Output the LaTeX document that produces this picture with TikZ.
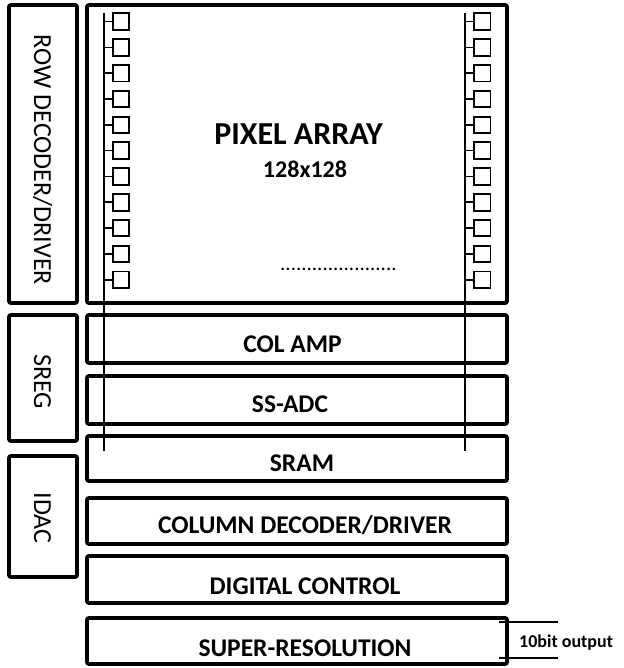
\documentclass[tikz,border=0pt]{standalone}
\usepackage{fontspec}
\setmainfont{Carlito}
\begin{document}
\begin{tikzpicture}[x=1pt,y=-1pt,
  blk/.style={draw, line width=3.8pt, rounded corners=2pt, inner sep=0pt},
  lbl/.style={font=\fontsize{25.5}{25.5}\selectfont\bfseries, inner sep=0pt},
  vlbl/.style={font=\fontsize{26}{26}\selectfont, inner sep=0pt, rotate=-90, anchor=base},
  cell/.style={draw, line width=1.9pt, inner sep=0pt, minimum width=16.5pt, minimum height=16.5pt},
  bus/.style={line width=1.3pt},
  tick/.style={line width=1.6pt},
  outl/.style={line width=1.2pt}]
\useasboundingbox (0,0) rectangle (623,668);
% left column
\node[blk, minimum width=68pt, minimum height=298pt] (rowdec) at (43,154) {};
\node[blk, minimum width=68pt, minimum height=126pt] (sreg) at (43,378) {};
\node[blk, minimum width=68pt, minimum height=121pt] (idac) at (43,516.5) {};
\node[vlbl] (trowdec) at (34,160) {ROW DECODER/DRIVER};
\node[vlbl] (tsreg) at (34,381.5) {SREG};
\node[vlbl] (tidac) at (34,518) {IDAC};
% main column
\node[blk, minimum width=420pt, minimum height=298pt] (pix) at (297,154) {};
\node[blk, minimum width=420pt, minimum height=48pt] (colamp) at (297,339) {};
\node[blk, minimum width=420pt, minimum height=48pt] (ssadc) at (297,400) {};
\node[blk, minimum width=420pt, minimum height=45pt] (sram) at (297,458.5) {};
\node[blk, minimum width=420pt, minimum height=46pt] (coldec) at (297,521) {};
\node[blk, minimum width=420pt, minimum height=47pt] (digctl) at (297,579.5) {};
\node[blk, minimum width=420pt, minimum height=46pt] (superres) at (297,641) {};
\node[lbl, anchor=base] (tcolamp) at (292.5,352) {COL AMP};
\node[lbl, anchor=base] (tssadc) at (290,412) {SS-ADC};
\node[lbl, anchor=base] (tsram) at (302,471) {SRAM};
\node[lbl, anchor=base] (tcoldec) at (305,533) {COLUMN DECODER/DRIVER};
\node[lbl, anchor=base] (tdigctl) at (305,594) {DIGITAL CONTROL};
\node[lbl, anchor=base] (tsuperres) at (305,656) {SUPER-RESOLUTION};
% pixel array texts
\node[font=\fontsize{32}{32}\selectfont\bfseries, inner sep=0pt, anchor=base] (tpix) at (298.5,145) {PIXEL ARRAY};
\node[font=\fontsize{24}{24}\selectfont\bfseries, inner sep=0pt, anchor=base] (tsize) at (305,178) {128x128};
\node[font=\fontsize{21}{21}\selectfont, inner sep=0pt, anchor=base] (tdots) at (338.5,270.5) {......................};
% bus lines
\coordinate (lbtop) at (104,13);
\coordinate (lbbot) at (104,451);
\coordinate (rbtop) at (465,13);
\coordinate (rbbot) at (465,451);
\draw[bus] (lbtop) -- (lbbot);
\draw[bus] (rbtop) -- (rbbot);
\foreach \i in {0,...,10} {
  \node[cell] (cl\i) at (121,21.7+25.8*\i) {};
  \node[cell] (cr\i) at (482.2,21.7+25.8*\i) {};
  \draw[tick] (cl\i.west) -- (cl\i.west -| lbtop);
  \draw[tick] (cr\i.west) -- (cr\i.west -| rbtop);
}
% output
\coordinate (o1a) at (499,622);
\coordinate (o1b) at (558,622);
\coordinate (o2a) at (499,658);
\coordinate (o2b) at (558,658);
\draw[outl] (o1a) -- (o1b);
\draw[outl] (o2a) -- (o2b);
\node[font=\fontsize{18}{18}\selectfont\bfseries, inner sep=0pt, anchor=base west] (tout) at (519,647) {10bit output};
\end{tikzpicture}
\end{document}
